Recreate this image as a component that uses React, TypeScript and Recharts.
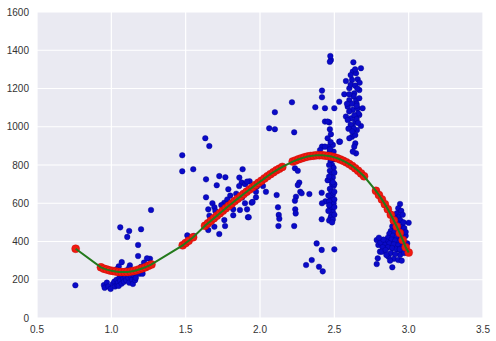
import React from "react";
import { ScatterChart, Scatter, XAxis, YAxis, CartesianGrid } from "recharts";

const xTicks = [0.5, 1.0, 1.5, 2.0, 2.5, 3.0, 3.5];
const yTicks = [0, 200, 400, 600, 800, 1000, 1200, 1400, 1600];

const bluePoints: [number, number][] = [
  [0.758,171],[0.95,172],[0.955,158],[0.97,185],[0.98,165],[0.995,152],[1.01,178],[1.02,190],[1.025,165],[1.035,200],
  [1.04,172],[1.045,185],[1.05,168],[1.055,210],[1.06,195],[1.065,225],[1.07,180],[1.075,240],[1.08,205],[1.085,190],
  [1.09,228],[1.095,215],[1.10,198],[1.105,250],[1.11,232],[1.115,210],[1.12,185],[1.125,275],[1.13,220],[1.14,200],
  [1.145,178],[1.15,225],[1.16,198],[1.165,210],[1.175,240],[1.19,232],[1.20,268],[1.22,290],[1.05,270],[1.07,292],
  [1.035,255],[1.26,310],[1.12,262],[1.21,232],
  [1.06,474],[1.12,455],[1.20,464],[1.107,424],[1.18,382],[1.18,324],[1.24,312],[1.267,565],
  [1.477,851],[1.477,767],[1.551,778],[1.511,432],[1.556,429],[1.632,940],[1.659,899],[1.637,725],[1.726,742],[1.767,736],
  [1.883,778],[1.861,734],[1.709,694],[1.787,673],[1.877,708],[1.637,631],[1.68,600],[1.693,579],[1.76,603],[1.82,568],
  [1.652,568],[1.865,565],[1.899,600],[1.944,603],[1.973,631],[1.668,516],[1.76,512],[1.82,537],[1.919,527],[1.765,481],
  [1.693,477],[1.652,460],[1.726,439],[1.95,607],[1.924,527],[1.973,660],[2.02,690],[1.84,650],[1.90,700],[1.93,715],
  [1.80,640],[1.86,690],[1.70,560],[1.78,620],[1.74,590],[1.66,535],[1.98,688],[1.88,630],[1.913,713],[1.913,568],
  [2.062,992],[2.10,987],[2.10,1076],[2.215,1128],[2.23,971],[2.235,783],[2.254,770],[2.264,708],[2.254,695],[2.271,660],
  [2.242,634],[2.235,613],[2.237,568],[2.24,547],[2.23,481],[2.112,643],[2.121,579],[2.126,539],[2.13,519],[2.124,481],
  [2.332,648],[2.28,652],[2.04,660],
  [2.47,880],[2.48,860],[2.49,840],[2.475,820],[2.485,800],[2.495,785],[2.47,770],[2.48,750],[2.49,735],[2.475,720],
  [2.485,700],[2.495,690],[2.47,675],[2.48,660],[2.49,645],[2.475,630],[2.485,615],[2.495,600],[2.47,585],[2.48,570],
  [2.49,555],[2.48,540],[2.475,525],[2.465,510],[2.49,515],[2.46,640],[2.455,720],[2.5,620],[2.5,700],[2.46,560],[2.44,610],
  [2.465,860],[2.495,870],[2.5,830],[2.465,800],[2.5,760],[2.465,740],[2.49,710],[2.5,660],[2.465,610],[2.5,580],
  [2.465,590],[2.5,540],[2.485,500],[2.47,900],[2.49,905],
  [2.372,1102],[2.417,1189],[2.417,1154],[2.437,1097],[2.5,1097],[2.437,1027],[2.466,1023],[2.47,987],[2.477,961],[2.455,940],
  [2.533,922],[2.417,896],[2.437,896],[2.404,878],[2.47,882],[2.477,1349],[2.473,1370],[2.47,1340],[2.415,655],[2.417,600],
  [2.415,516],[2.381,390],[2.415,356],[2.50,359],[2.348,303],[2.31,277],[2.397,268],[2.422,244],[2.455,1027],[2.475,920],
  [2.628,1337],[2.679,1306],[2.624,1288],[2.646,1280],[2.619,1245],[2.578,1239],[2.657,1248],[2.601,1201],[2.668,1192],[2.567,1170],
  [2.634,1175],[2.533,1131],[2.601,1140],[2.646,1140],[2.668,1149],[2.59,1105],[2.624,1088],[2.657,1097],[2.69,1097],[2.578,1053],
  [2.612,1044],[2.668,1062],[2.641,1027],[2.679,1004],[2.624,1004],[2.59,1035],[2.652,983],[2.619,948],[2.641,957],[2.601,940],
  [2.641,913],[2.634,896],[2.646,861],[2.61,1220],[2.64,1215],[2.63,1160],[2.60,1170],[2.65,1120],[2.62,1120],[2.66,1070],
  [2.60,1080],[2.635,1060],[2.65,1040],[2.61,1010],[2.66,1020],[2.63,990],[2.65,1110],[2.595,990],[2.62,975],[2.655,1200],
  [2.585,1120],[2.67,1230],[2.64,1300],[2.61,1270],[2.538,922],[2.624,870],
  [2.942,596],[2.93,574],[2.92,547],[2.95,560],[2.935,530],[2.91,520],[2.945,510],[2.96,540],[2.9,500],[2.925,495],
  [2.955,480],[2.89,480],[2.915,470],[2.94,465],[2.97,470],[2.88,455],[2.905,450],[2.93,445],[2.96,440],[2.87,440],
  [2.895,430],[2.92,425],[2.95,420],[2.98,430],[2.86,420],[2.885,410],[2.91,405],[2.94,400],[2.97,395],[2.85,400],
  [2.87,390],[2.9,385],[2.93,380],[2.96,375],[2.99,390],[2.835,385],[2.86,370],[2.89,365],[2.92,360],[2.95,350],
  [2.785,408],[2.796,382],[2.81,395],[2.825,370],[2.807,347],[2.82,347],[2.845,355],[2.792,312],[2.785,282],[2.863,321],
  [2.89,265],[2.9,310],[2.93,303],[2.953,300],[2.942,330],[2.88,340],[2.91,335],[2.97,340],[2.85,330],[2.94,360],
  [3.0,498],[2.98,450],[2.965,500],[2.875,300],[2.83,410],[2.8,420],
];

const redPoints: [number, number][] = [
  [0.76,362],
  [0.93,265],[0.95,258],[0.97,253],[0.99,249],[1.01,246],[1.03,243],[1.05,241],[1.07,240],[1.09,240],[1.11,241],
  [1.13,243],[1.15,246],[1.17,250],[1.19,255],[1.21,260],[1.23,266],[1.25,273],[1.27,280],
  [1.48,380],[1.50,392],[1.52,404],[1.55,422],
  [1.63,482],[1.65,495],[1.67,508],[1.69,522],[1.71,535],[1.73,548],[1.75,561],[1.77,574],[1.79,587],[1.81,599],
  [1.83,612],[1.85,624],[1.87,636],[1.89,648],[1.91,660],[1.93,672],[1.95,684],[1.97,696],[1.99,707],[2.01,718],
  [2.03,730],[2.05,741],[2.07,752],[2.09,762],[2.11,772],[2.13,781],[2.15,790],
  [2.22,818],[2.24,824],[2.26,830],[2.28,835],[2.30,840],[2.32,844],[2.34,847],[2.36,849],[2.38,851],[2.40,851],
  [2.42,851],[2.44,849],[2.46,847],[2.48,844],[2.50,840],[2.52,835],[2.54,829],[2.56,822],[2.58,814],[2.60,805],
  [2.62,795],[2.64,783],[2.66,770],[2.68,756],[2.70,741],
  [2.78,665],[2.80,643],[2.82,620],[2.84,595],[2.86,568],[2.88,540],[2.90,510],[2.92,478],[2.94,444],[2.96,408],
  [2.98,370],[3.00,342],
];

const blueData = bluePoints.map(([x, y]) => ({ x, y }));
const redData = redPoints.map(([x, y]) => ({ x, y }));

const BlueDot = (p: any) => (
  <circle cx={p.cx} cy={p.cy} r={2.8} fill="#0a0ac8" stroke="#00008a" strokeWidth={0.4} />
);
const RedDot = (p: any) => (
  <circle cx={p.cx} cy={p.cy} r={4} fill="#f01a10" stroke="#c80000" strokeWidth={0.4} />
);
const NoDot = () => <g />;

const tickStyle = { fontSize: 10, fill: "#333333", fontFamily: "'Liberation Sans', Arial, sans-serif" };

export default function App() {
  return (
    <div style={{ position: "absolute", left: 0, top: 0, background: "#fff" }}>
      <ScatterChart width={496} height={341} margin={{ top: 12, right: 13, bottom: 0, left: 0 }}>
        <CartesianGrid fill="#EAEAF2" stroke="#ffffff" strokeWidth={1.2} />
        <XAxis
          type="number"
          dataKey="x"
          domain={[0.5, 3.5]}
          ticks={xTicks}
          tickFormatter={(v: number) => v.toFixed(1)}
          axisLine={false}
          tickLine={false}
          tickSize={0}
          tickMargin={8}
          height={23}
          tick={tickStyle}
          interval={0}
          allowDataOverflow
        />
        <YAxis
          type="number"
          dataKey="y"
          domain={[0, 1600]}
          ticks={yTicks}
          axisLine={false}
          tickLine={false}
          tickSize={0}
          tickMargin={8}
          width={37}
          tick={tickStyle}
          interval={0}
          allowDataOverflow
        />
        <Scatter data={blueData} shape={BlueDot} isAnimationActive={false} />
        <Scatter data={redData} shape={RedDot} isAnimationActive={false} />
        <Scatter
          data={redData}
          shape={NoDot}
          line={{ stroke: "#237a1c", strokeWidth: 2 }}
          isAnimationActive={false}
        />
      </ScatterChart>
    </div>
  );
}
